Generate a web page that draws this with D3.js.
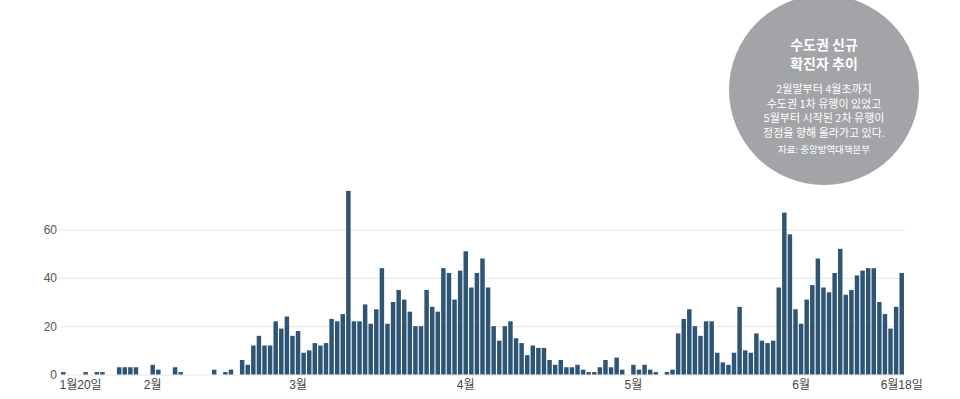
<!DOCTYPE html>
<html>
<head>
<meta charset="utf-8">
<script src="https://cdn.jsdelivr.net/npm/d3@7"></script>
<style>
  html, body { margin: 0; padding: 0; background: #fff; }
  svg { display: block; }
  .axis text { font-family: "Liberation Sans Narrow", "Liberation Sans", "Noto Sans CJK KR", sans-serif; }
  .circle-text { font-family: "Noto Sans CJK KR", sans-serif; fill: #fff; }
</style>
</head>
<body>
<svg id="chart" width="960" height="399"></svg>
<script>
// ---- data ----
const startDate = "2020-01-20";
const dailyCases = [
  1, 0, 0, 0, 1, 0, 1, 1, 0, 0,
  3, 3, 3, 3, 0, 0, 4, 2, 0, 0,
  3, 1, 0, 0, 0, 0, 0, 2, 0, 1,
  2, 0, 6, 4, 12, 16, 12, 12, 22, 19,
  24, 16, 18, 9, 10, 13, 12, 13, 23, 22,
  25, 76, 22, 22, 29, 21, 27, 44, 21, 30,
  35, 31, 26, 20, 20, 35, 28, 26, 44, 42,
  31, 43, 51, 36, 42, 48, 36, 20, 14, 20,
  22, 15, 13, 8, 12, 11, 11, 6, 4, 6,
  3, 3, 4, 2, 1, 1, 3, 6, 3, 7,
  2, 0, 4, 2, 4, 2, 1, 0, 1, 2,
  17, 23, 27, 20, 16, 22, 22, 9, 5, 4,
  9, 28, 10, 9, 17, 14, 13, 14, 36, 67,
  58, 27, 21, 31, 37, 48, 36, 34, 42, 52,
  33, 35, 41, 43, 44, 44, 30, 25, 19, 28,
  42
];
const xTickLabels = ["1월20일", "2월", "3월", "4월", "5월", "6월", "6월18일"];
const xTickDays = [0, 16, 42, 72, 102, 132, 150];
const yTicks = [0, 20, 40, 60];
const titleLines = ["수도권 신규", "확진자 추이"];
const bodyLines = ["2월말부터 4월초까지", "수도권 1차 유행이 있었고", "5월부터 시작된 2차 유행이", "정점을 향해 올라가고 있다."];
const sourceLine = "자료: 중앙방역대책본부";

// ---- build ----
const parse = d3.timeParse("%Y-%m-%d");
const days = d3.range(dailyCases.length);
const dates = days.map(i => d3.timeDay.offset(parse(startDate), i));

const svg = d3.select("#chart");

const x = d3.scaleBand().domain(days).range([60.5, 904.5]).paddingInner(0.2).paddingOuter(0.1);
const y = d3.scaleLinear().domain([0, 60]).range([374.5, 229.5]);

// grid
const yAxis = d3.axisLeft(y).tickValues(yTicks).tickSize(-(905 - 60)).tickPadding(4);
const gy = svg.append("g").attr("class", "axis").attr("transform", "translate(60,0)").call(yAxis);
gy.select(".domain").remove();
gy.selectAll(".tick line").attr("stroke", "#e6e6e6").attr("stroke-width", 1);
gy.selectAll(".tick text").attr("fill", "#555").attr("font-size", 12).attr("x", -3);

// bars
svg.append("g").selectAll("rect")
  .data(dailyCases)
  .join("rect")
  .attr("x", (d, i) => x(i))
  .attr("width", x.bandwidth())
  .attr("y", d => y(d))
  .attr("height", d => y(0) - y(d))
  .attr("fill", "#2e5575");

// x labels
const xPos = i => x(i) + x.bandwidth() / 2;
svg.append("g").attr("class", "axis").selectAll("text")
  .data(xTickDays)
  .join("text")
  .attr("x", (d, k) => k === 0 ? x(d) - 1.5 : xPos(d))
  .attr("y", 389)
  .attr("text-anchor", (d, k) => k === 0 ? "start" : "middle")
  .attr("font-size", 12)
  .attr("fill", "#444")
  .text((d, k) => xTickLabels[k]);

// annotation circle
const cx = 824, cy = 90, r = 95;
svg.append("circle").attr("cx", cx).attr("cy", cy).attr("r", r).attr("fill", "#a2a4a7");
svg.append("g").selectAll("text")
  .data(titleLines).join("text")
  .attr("class", "circle-text")
  .attr("x", cx).attr("y", (d, i) => 50 + i * 19)
  .attr("text-anchor", "middle").attr("font-size", 14).attr("font-weight", 700)
  .text(d => d);
svg.append("g").selectAll("text")
  .data(bodyLines).join("text")
  .attr("class", "circle-text")
  .attr("x", cx).attr("y", (d, i) => 93 + i * 14.5)
  .attr("text-anchor", "middle").attr("font-size", 11)
  .text(d => d);
svg.append("text").attr("class", "circle-text")
  .attr("x", cx).attr("y", 153)
  .attr("text-anchor", "middle").attr("font-size", 9.5)
  .text(sourceLine);
</script>
</body>
</html>
